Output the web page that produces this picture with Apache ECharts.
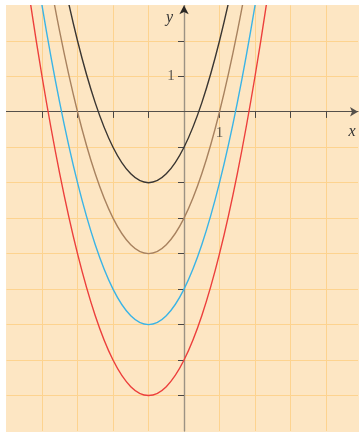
<!DOCTYPE html>
<html>
<head>
<meta charset="utf-8">
<script src="https://cdn.jsdelivr.net/npm/echarts@6/dist/echarts.min.js"></script>
<style>
html,body{margin:0;padding:0;background:#ffffff;}
#chart{position:absolute;left:6px;top:5px;width:353px;height:427px;}
</style>
</head>
<body>
<div id="chart"></div>
<script>
// x positions of the sampled points
var xs = [-5, -4.5, -4, -3.5, -3, -2.5, -2, -1.5, -1, -0.5, 0, 0.5, 1, 1.5, 2, 2.5, 3];
// values (vertex at x = -1)
var blackVals = [14, 10.25, 7, 4.25, 2, 0.25, -1, -1.75, -2, -1.75, -1, 0.25, 2, 4.25, 7, 10.25, 14];
var brownVals = [12, 8.25, 5, 2.25, 0, -1.75, -3, -3.75, -4, -3.75, -3, -1.75, 0, 2.25, 5, 8.25, 12];
var blueVals  = [10, 6.25, 3, 0.25, -2, -3.75, -5, -5.75, -6, -5.75, -5, -3.75, -2, 0.25, 3, 6.25, 10];
var redVals   = [8, 4.25, 1, -1.75, -4, -5.75, -7, -7.75, -8, -7.75, -7, -5.75, -4, -1.75, 1, 4.25, 8];
var xTicks = [-4, -3, -2, -1, 1, 2, 3, 4];
var yTicks = [2, 1, -1, -2, -3, -4, -5, -6, -7, -8];
var xLabels = [1];
var yLabels = [1];

function pairs(vals){ return xs.map(function(x,i){ return [x, vals[i]]; }); }

var chart = echarts.init(document.getElementById('chart'), null, {renderer:'canvas'});
var gridColor = '#fdd38f';
var serif = 'Liberation Serif, DejaVu Serif, serif';

function mkSeries(vals, color){
  return {
    type:'line', data: pairs(vals), smooth: 0.35, showSymbol:false, clip:true,
    lineStyle:{color:color, width:1.4}, silent:true, animation:false
  };
}

chart.setOption({
  backgroundColor:'#fde6c3',
  animation:false,
  grid:{left:0.5, top:0.3, width:351.5, height:425.7, show:false, containLabel:false, outerBoundsMode:'none'},
  xAxis:[
    {type:'value', min:-5, max:4.9, interval:1,
     axisLine:{onZero:true, onZeroAxisIndex:0, lineStyle:{color:'#55504a', width:1.2}, symbol:['none','arrow'], symbolSize:[7,8]},
     axisTick:{show:true, inside:false, length:6, customValues:xTicks, lineStyle:{color:'#4a4642', width:1}},
     axisLabel:{show:false},
     splitLine:{show:true, lineStyle:{color:gridColor, width:1}},
     name:'x', nameLocation:'end', nameGap:-6,
     nameTextStyle:{fontFamily:serif, fontStyle:'italic', fontSize:16, color:'#333', align:'center', verticalAlign:'top', padding:[12,0,0,0]}
    },
    {type:'value', min:-5, max:4.9, interval:1,
     axisLine:{onZero:true, onZeroAxisIndex:0, show:false},
     axisTick:{show:true, inside:true, length:6, customValues:xTicks, lineStyle:{color:'#4a4642', width:1}},
     axisLabel:{show:false}, splitLine:{show:false}
    }
  ],
  yAxis:[
    {type:'value', min:-9, max:3, interval:1,
     axisLine:{onZero:true, onZeroAxisIndex:0, lineStyle:{color:'#9c9283', width:1.4}},
     axisTick:{show:true, inside:false, length:6, customValues:yTicks, lineStyle:{color:'#4a4642', width:1}},
     axisLabel:{show:false},
     splitLine:{show:true, lineStyle:{color:gridColor, width:1}},
     name:'y', nameLocation:'end', nameGap:-12,
     nameTextStyle:{fontFamily:serif, fontStyle:'italic', fontSize:16, color:'#333', align:'right', verticalAlign:'middle', padding:[0,11,0,0]}
    },
    {type:'value', min:-9, max:3, interval:1,
     axisLine:{onZero:true, onZeroAxisIndex:0, show:true, lineStyle:{color:'#2a2724', width:0}, symbol:['none','arrow'], symbolSize:[7,9]},
     axisTick:{show:true, inside:true, length:6, customValues:yTicks, lineStyle:{color:'#4a4642', width:1}},
     axisLabel:{show:false}, splitLine:{show:false}
    }
  ],
  series:[
    mkSeries(redVals, '#ec3f3c'),
    mkSeries(blueVals, '#3ab4e6'),
    mkSeries(brownVals, '#a8825f'),
    mkSeries(blackVals, '#3a3632'),
    {type:'scatter', symbolSize:0, silent:true, z:5,
     data: xLabels.map(function(v){ return [v, 0]; }),
     label:{show:true, position:'inside', offset:[0,21], formatter:function(p){ return String(p.value[0]); },
            fontFamily:serif, fontSize:15, color:'#333'}},
    {type:'scatter', symbolSize:0, silent:true, z:5,
     data: yLabels.map(function(v){ return [0, v]; }),
     label:{show:true, position:'inside', offset:[-13,0], formatter:function(p){ return String(p.value[1]); },
            fontFamily:serif, fontSize:15, color:'#333'}}
  ]
});
</script>
</body>
</html>
